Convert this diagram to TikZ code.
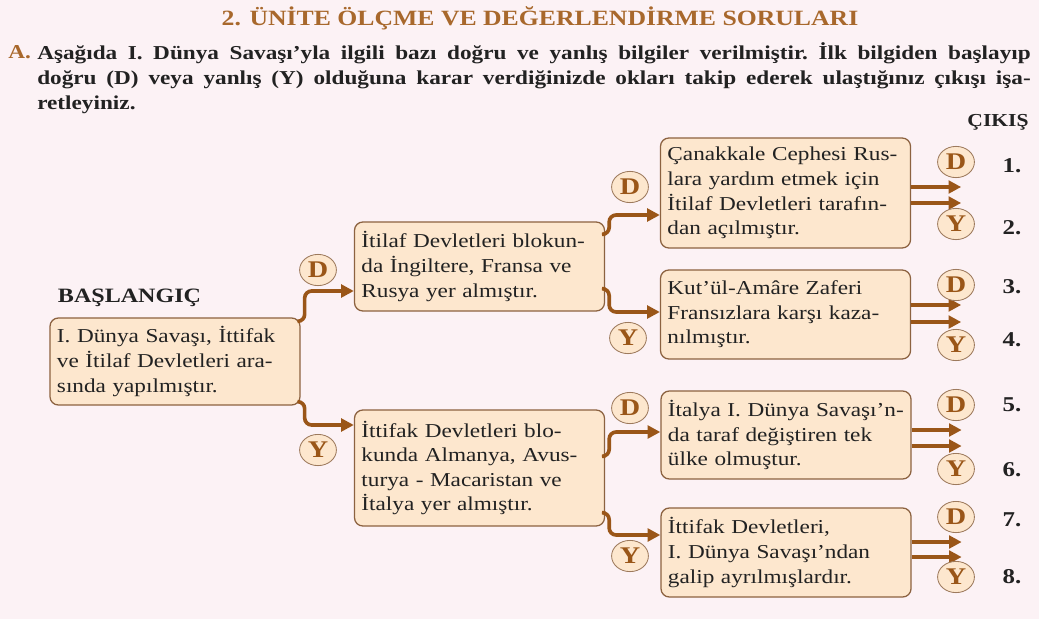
\documentclass[tikz,border=0pt]{standalone}
\usepackage{fontspec}
\setmainfont{Liberation Serif}[FakeStretch=1.18]
\usetikzlibrary{shapes.geometric,calc,arrows.meta}

\definecolor{bgpink}{HTML}{FCF2F5}
\definecolor{boxfill}{HTML}{FDE7CE}
\definecolor{boxline}{HTML}{8C6240}
\definecolor{arrbrown}{HTML}{9A5618}
\definecolor{titlebrown}{HTML}{A8682C}
\definecolor{txtdark}{HTML}{222222}

\begin{document}
\begin{tikzpicture}[
    x=0.025cm, y=-0.025cm,
    mybox/.style={rectangle, draw=boxline, line width=0.9pt, fill=boxfill, rounded corners=6pt, minimum width=6.25cm, text width=5.9cm, align=left, inner xsep=0.175cm, font=\fontsize{14}{17.5}\selectfont, text=txtdark},
    mycirc/.style={ellipse, draw=boxline!85, line width=0.6pt, fill=boxfill, minimum width=0.92cm, minimum height=0.78cm, inner sep=0pt, font=\fontsize{17}{17}\selectfont\bfseries, text=arrbrown},
    mylabel/.style={font=\fontsize{15}{15}\selectfont\bfseries, text=txtdark},
    myarrow/.style={-{Triangle[length=9pt,width=9pt]}, line width=2.6pt, arrbrown},
    mybranch/.style={myarrow, rounded corners=5pt}
]
    % Background and frame
    \fill[bgpink] (0,0) rectangle (1039,619);
    \useasboundingbox (0,0) rectangle (1039,619);

    % Heading
    \node[font=\fontsize{15.5}{15.5}\selectfont\bfseries, text=titlebrown] (title) at (540,18) {2. ÜNİTE ÖLÇME VE DEĞERLENDİRME SORULARI};
    \node[anchor=west, font=\fontsize{14}{18}\selectfont\bfseries, text=titlebrown, inner sep=0pt] (harfA) at (8,52) {A.};
    \node[anchor=north west, text width=24.83cm, align=justify, inner sep=0pt, font=\fontsize{14}{18}\selectfont\bfseries, text=txtdark] (soru) at (37,42)
        {\frenchspacing\hyphenpenalty=10000 Aşağıda I. Dünya Savaşı’yla ilgili bazı doğru ve yanlış bilgiler verilmiştir. İlk bilgiden başlayıp\linebreak doğru (D) veya yanlış (Y) olduğuna karar verdiğinizde okları takip ederek ulaştığınız çıkışı işa-\linebreak retleyiniz.};

    \node[mylabel, font=\fontsize{13}{13}\selectfont\bfseries] (cikis) at (998,122) {ÇIKIŞ};
    \node[mylabel, font=\fontsize{14.5}{14.5}\selectfont\bfseries, anchor=west] (baslangic) at (53,298) {BAŞLANGIÇ};

    % Statement boxes
    \node[mybox, minimum height=2.175cm] (B1) at (175,361.5) {I. Dünya Savaşı, İttifak\\ ve İtilaf Devletleri ara-\\ sında yapılmıştır.};
    \node[mybox, minimum height=2.225cm] (B2) at (479.5,266.5) {İtilaf Devletleri blokun-\\ da İngiltere, Fransa ve\\ Rusya yer almıştır.};
    \node[mybox, minimum height=2.9cm] (B3) at (479.5,468) {İttifak Devletleri blo-\\ kunda Almanya, Avus-\\ turya - Macaristan ve\\ İtalya yer almıştır.};
    \node[mybox, minimum height=2.75cm] (B4) at (785.5,193) {Çanakkale Cephesi Rus-\\ lara yardım etmek için\\ İtilaf Devletleri tarafın-\\ dan açılmıştır.};
    \node[mybox, minimum height=2.225cm] (B5) at (785.5,314.5) {Kut’ül-Amâre Zaferi\\ Fransızlara karşı kaza-\\ nılmıştır.};
    \node[mybox, minimum height=2.2cm] (B6) at (786,435) {İtalya I. Dünya Savaşı’n-\\ da taraf değiştiren tek\\ ülke olmuştur.};
    \node[mybox, minimum height=2.225cm] (B7) at (786,552.5) {İttifak Devletleri,\\ I. Dünya Savaşı’ndan\\ galip ayrılmışlardır.};

    % Branches
    \draw[mybranch] ($(B1.north east)+(-2,4)$) -- ++(6,0) |- ($(B2.west)+(0,24.5)$);
    \draw[mybranch] ($(B1.south east)+(-2,-4)$) -- ++(6,0) |- ($(B3.west)+(0,-43)$);
    \draw[mybranch] ($(B2.north east)+(0,13)$) -- ++(4,0) |- ($(B4.west)+(0,22)$);
    \draw[mybranch] ($(B2.south east)+(0,-23)$) -- ++(4,0) |- ($(B5.west)+(0,-2.5)$);
    \draw[mybranch] ($(B3.north east)+(0,47)$) -- ++(4,0) |- ($(B6.west)+(0,-3)$);
    \draw[mybranch] ($(B3.south east)+(0,-14)$) -- ++(4,0) |- ($(B7.west)+(0,-17.5)$);

    \node[mycirc] (d1) at (318,270) {D};
    \node[mycirc] (y1) at (318,450) {Y};
    \node[mycirc] (d2) at (630,187) {D};
    \node[mycirc] (y2) at (628,338) {Y};
    \node[mycirc] (d3) at (630,408) {D};
    \node[mycirc] (y3) at (630,556) {Y};

    % Exits
    \draw[myarrow] ($(B4.east)+(0,-6)$) -- ++(50,0);
    \draw[myarrow] ($(B4.east)+(0,10)$) -- ++(50,0);
    \draw[myarrow] ($(B5.east)+(0,-9.5)$) -- ++(50,0);
    \draw[myarrow] ($(B5.east)+(0,7.5)$) -- ++(50,0);
    \draw[myarrow] ($(B6.east)+(0,-5)$) -- ++(50,0);
    \draw[myarrow] ($(B6.east)+(0,11)$) -- ++(50,0);
    \draw[myarrow] ($(B7.east)+(0,-10.5)$) -- ++(50,0);
    \draw[myarrow] ($(B7.east)+(0,4.5)$) -- ++(50,0);

    \node[mycirc] (d4) at (956,162) {D};
    \node[mycirc] (y4) at (956,224) {Y};
    \node[mycirc] (d5) at (956,285) {D};
    \node[mycirc] (y5) at (956,345) {Y};
    \node[mycirc] (d6) at (956,405) {D};
    \node[mycirc] (y6) at (956,469) {Y};
    \node[mycirc] (d7) at (956,517) {D};
    \node[mycirc] (y7) at (956,577) {Y};

    \node[mylabel] (n1) at (1012,166) {1.};
    \node[mylabel] (n2) at (1012,228) {2.};
    \node[mylabel] (n3) at (1012,287) {3.};
    \node[mylabel] (n4) at (1012,340) {4.};
    \node[mylabel] (n5) at (1012,405) {5.};
    \node[mylabel] (n6) at (1012,470) {6.};
    \node[mylabel] (n7) at (1012,520) {7.};
    \node[mylabel] (n8) at (1012,577) {8.};
\end{tikzpicture}
\end{document}
